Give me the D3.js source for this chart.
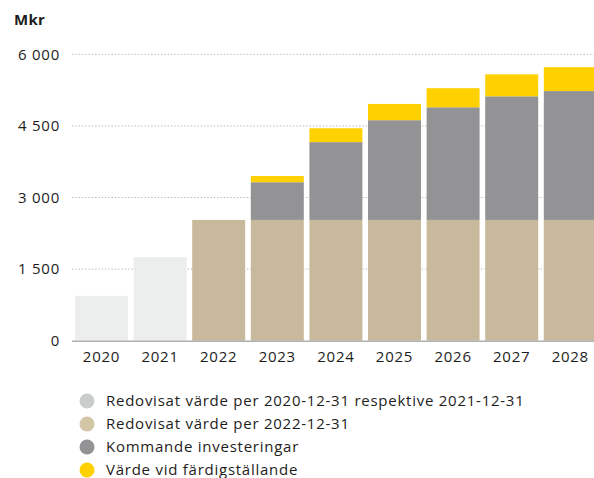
<!DOCTYPE html>
<html>
<head>
<meta charset="utf-8">
<script src="https://cdn.jsdelivr.net/npm/d3@7"></script>
<style>
  html, body { margin: 0; padding: 0; background: #fff; }
  svg text { font-family: "Open Sans", sans-serif; fill: #1d1d1b; letter-spacing: 0.75px; }
</style>
</head>
<body>
<svg id="chart" width="594" height="478"></svg>
<script>
// Years on the x axis
const years = ["2020", "2021", "2022", "2023", "2024", "2025", "2026", "2027", "2028"];

// Stack segments per year (Mkr)
const redovisat2021 = [940, 1750, 0, 0, 0, 0, 0, 0, 0];
const redovisat2022 = [0, 0, 2530, 2530, 2530, 2530, 2530, 2530, 2530];
const kommande = [0, 0, 0, 790, 1630, 2090, 2360, 2590, 2700];
const fardig = [0, 0, 0, 130, 290, 340, 400, 460, 500];

// Y axis ticks
const yTicks = [0, 1500, 3000, 4500, 6000];
const yTickLabels = ["0", "1 500", "3 000", "4 500", "6 000"];

const seriesNames = [
  "Redovisat värde per 2020-12-31 respektive 2021-12-31",
  "Redovisat värde per 2022-12-31",
  "Kommande investeringar",
  "Värde vid färdigställande"
];
const barColors = ["#eceeed", "#c9b99c", "#939396", "#ffd100"];
const legendColors = ["#c8cccb", "#d3c6a7", "#939396", "#ffd100"];

const keys = ["a", "b", "c", "d"];
const rows = years.map((y, i) => ({
  year: y, a: redovisat2021[i], b: redovisat2022[i], c: kommande[i], d: fardig[i]
}));

const svg = d3.select("#chart");

const x = d3.scaleBand()
  .domain(years)
  .range([72.2, 599.6])
  .paddingInner(0.096)
  .paddingOuter(0.048);

const y = d3.scaleLinear()
  .domain([0, 6000])
  .range([340.7, 54.3]);

// Dotted gridlines
svg.append("g")
  .selectAll("line")
  .data(yTicks.filter(d => d > 0))
  .join("line")
  .attr("x1", 72)
  .attr("x2", 594)
  .attr("y1", d => y(d))
  .attr("y2", d => y(d))
  .attr("stroke", "#b4b4b4")
  .attr("stroke-width", 1)
  .attr("stroke-dasharray", "1.3,2");

// Y tick labels
svg.append("g")
  .selectAll("text")
  .data(yTicks)
  .join("text")
  .attr("x", 60)
  .attr("y", d => y(d))
  .attr("dy", "0.35em")
  .attr("text-anchor", "end")
  .attr("font-size", 15)
  .text((d, i) => yTickLabels[i]);

// Unit label
svg.append("text")
  .attr("x", 14)
  .attr("y", 25)
  .attr("font-size", 15)
  .attr("font-weight", "bold")
  .style("letter-spacing", "0.3px")
  .text("Mkr");

// Stacked bars
const stacked = d3.stack().keys(keys)(rows);
svg.append("g")
  .selectAll("g")
  .data(stacked)
  .join("g")
  .attr("fill", (d, i) => barColors[i])
  .selectAll("rect")
  .data(d => d)
  .join("rect")
  .attr("x", d => x(d.data.year))
  .attr("width", x.bandwidth())
  .attr("y", d => y(d[1]))
  .attr("height", d => Math.max(0, y(d[0]) - y(d[1])));

// Baseline
svg.append("line")
  .attr("x1", 72)
  .attr("x2", 594)
  .attr("y1", y(0) + 0.5)
  .attr("y2", y(0) + 0.5)
  .attr("stroke", "#b0b0b0")
  .attr("stroke-width", 1.5);

// Year labels
svg.append("g")
  .selectAll("text")
  .data(years)
  .join("text")
  .attr("x", d => x(d) + x.bandwidth() / 2)
  .attr("y", 362)
  .attr("text-anchor", "middle")
  .attr("font-size", 15)
  .text(d => d);

// Legend
const legend = svg.append("g")
  .selectAll("g")
  .data(seriesNames)
  .join("g")
  .attr("transform", (d, i) => `translate(0, ${401 + i * 23})`);

legend.append("circle")
  .attr("cx", 87)
  .attr("cy", 0)
  .attr("r", 7.5)
  .attr("fill", (d, i) => legendColors[i]);

legend.append("text")
  .attr("x", 106)
  .attr("y", 0)
  .attr("dy", "0.35em")
  .attr("font-size", 15)
  .text(d => d);
</script>
</body>
</html>
